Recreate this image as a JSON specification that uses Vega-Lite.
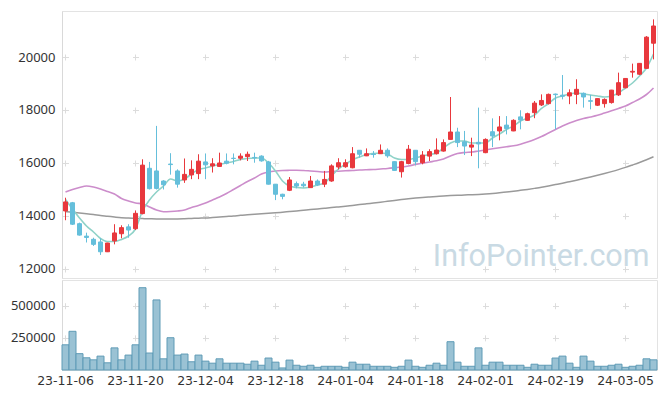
{
  "$schema": "https://vega.github.io/schema/vega-lite/v6.json",
  "padding": {"left": 5, "top": 10, "right": 9, "bottom": 0},
  "background": "white",
  "spacing": 0,
  "config": {
    "view": {"stroke": "#e3e3e3"},
    "axis": {"labelFont": "Noto Sans", "labelFontSize": 13, "labelColor": "#333333", "ticks": false, "domainColor": "#d9d9d9", "gridColor": "#dcdcdc", "title": null, "labelAngle": 0}
  },
  "datasets": {
    "k": [
      {"d":"23-11-06","o":14190,"h":14690,"l":13840,"c":14530,"v":196000,"m5":14623,"m20":14906,"m60":14170},
      {"d":"23-11-07","o":14500,"h":14530,"l":13660,"c":13690,"v":301000,"m5":14264,"m20":15000,"m60":14140},
      {"d":"23-11-08","o":13710,"h":13750,"l":13260,"c":13280,"v":127000,"m5":13925,"m20":15075,"m60":14113},
      {"d":"23-11-09","o":13240,"h":13370,"l":13000,"c":13190,"v":95000,"m5":13623,"m20":15132,"m60":14087},
      {"d":"23-11-10","o":13120,"h":13180,"l":12870,"c":12930,"v":79000,"m5":13396,"m20":15094,"m60":14057},
      {"d":"23-11-13","o":13020,"h":13160,"l":12530,"c":12650,"v":108000,"m5":13151,"m20":15019,"m60":14019},
      {"d":"23-11-14","o":12650,"h":12990,"l":12640,"c":12980,"v":56000,"m5":13038,"m20":14925,"m60":13992},
      {"d":"23-11-15","o":13060,"h":13690,"l":12930,"c":13360,"v":172000,"m5":13038,"m20":14830,"m60":13962},
      {"d":"23-11-16","o":13330,"h":13650,"l":13160,"c":13560,"v":79000,"m5":13113,"m20":14660,"m60":13936},
      {"d":"23-11-17","o":13590,"h":13690,"l":13180,"c":13470,"v":116000,"m5":13245,"m20":14566,"m60":13925},
      {"d":"23-11-20","o":13520,"h":14210,"l":13470,"c":14100,"v":196000,"m5":13509,"m20":14491,"m60":13913},
      {"d":"23-11-21","o":14090,"h":16140,"l":14060,"c":15920,"v":640000,"m5":14189,"m20":14464,"m60":13902},
      {"d":"23-11-22","o":15800,"h":16040,"l":15000,"c":15030,"v":132000,"m5":14604,"m20":14340,"m60":13894},
      {"d":"23-11-23","o":15700,"h":17400,"l":15000,"c":15040,"v":545000,"m5":14906,"m20":14226,"m60":13887},
      {"d":"23-11-24","o":15320,"h":15350,"l":15000,"c":15180,"v":87000,"m5":15132,"m20":14162,"m60":13887},
      {"d":"23-11-27","o":15960,"h":16370,"l":15560,"c":15940,"v":251000,"m5":15396,"m20":14170,"m60":13887},
      {"d":"23-11-28","o":15700,"h":15760,"l":15070,"c":15200,"v":116000,"m5":15321,"m20":14189,"m60":13887},
      {"d":"23-11-29","o":15360,"h":16170,"l":15250,"c":15570,"v":124000,"m5":15396,"m20":14226,"m60":13894},
      {"d":"23-11-30","o":15550,"h":16100,"l":15390,"c":15760,"v":64000,"m5":15585,"m20":14321,"m60":13906},
      {"d":"23-12-01","o":15600,"h":16330,"l":15390,"c":16070,"v":116000,"m5":15755,"m20":14396,"m60":13917},
      {"d":"23-12-04","o":16040,"h":16360,"l":15390,"c":15930,"v":69000,"m5":15811,"m20":14491,"m60":13925},
      {"d":"23-12-05","o":15890,"h":16180,"l":15640,"c":15970,"v":53000,"m5":15887,"m20":14604,"m60":13943},
      {"d":"23-12-06","o":15870,"h":16390,"l":15860,"c":16000,"v":87000,"m5":15943,"m20":14717,"m60":13962},
      {"d":"23-12-07","o":16070,"h":16360,"l":15950,"c":15990,"v":53000,"m5":16000,"m20":14849,"m60":13981},
      {"d":"23-12-08","o":16180,"h":16360,"l":15950,"c":16170,"v":53000,"m5":16057,"m20":15000,"m60":14000},
      {"d":"23-12-11","o":16180,"h":16365,"l":16100,"c":16260,"v":53000,"m5":16132,"m20":15151,"m60":14026},
      {"d":"23-12-12","o":16240,"h":16430,"l":16075,"c":16330,"v":45000,"m5":16170,"m20":15302,"m60":14045},
      {"d":"23-12-13","o":16210,"h":16390,"l":16010,"c":16190,"v":69000,"m5":16189,"m20":15434,"m60":14064},
      {"d":"23-12-14","o":16260,"h":16290,"l":16050,"c":16080,"v":37000,"m5":16189,"m20":15585,"m60":14083},
      {"d":"23-12-15","o":16040,"h":16080,"l":15190,"c":15200,"v":93000,"m5":16000,"m20":15660,"m60":14102},
      {"d":"23-12-18","o":15200,"h":15200,"l":14600,"c":14820,"v":61000,"m5":15698,"m20":15698,"m60":14121},
      {"d":"23-12-19","o":14820,"h":14840,"l":14630,"c":14740,"v":16000,"m5":15321,"m20":15717,"m60":14143},
      {"d":"23-12-20","o":14970,"h":15470,"l":14940,"c":15360,"v":77000,"m5":15132,"m20":15724,"m60":14166},
      {"d":"23-12-21","o":15220,"h":15300,"l":15045,"c":15130,"v":37000,"m5":15075,"m20":15728,"m60":14189},
      {"d":"23-12-22","o":15200,"h":15290,"l":15070,"c":15140,"v":29000,"m5":15057,"m20":15717,"m60":14215},
      {"d":"23-12-26","o":15070,"h":15510,"l":15060,"c":15320,"v":37000,"m5":15094,"m20":15698,"m60":14241},
      {"d":"23-12-27","o":15320,"h":15380,"l":15130,"c":15170,"v":21000,"m5":15170,"m20":15679,"m60":14264},
      {"d":"23-12-28","o":15200,"h":15700,"l":15090,"c":15380,"v":29000,"m5":15245,"m20":15660,"m60":14291},
      {"d":"24-01-02","o":15320,"h":15950,"l":15290,"c":15890,"v":29000,"m5":15509,"m20":15679,"m60":14317},
      {"d":"24-01-03","o":15850,"h":16180,"l":15760,"c":16010,"v":29000,"m5":15774,"m20":15691,"m60":14343},
      {"d":"24-01-04","o":15860,"h":16140,"l":15820,"c":16010,"v":21000,"m5":15962,"m20":15706,"m60":14370},
      {"d":"24-01-05","o":15820,"h":16600,"l":15800,"c":16350,"v":61000,"m5":16113,"m20":15717,"m60":14400},
      {"d":"24-01-08","o":16480,"h":16480,"l":16200,"c":16330,"v":45000,"m5":16226,"m20":15736,"m60":14430},
      {"d":"24-01-09","o":16270,"h":16550,"l":16260,"c":16350,"v":45000,"m5":16321,"m20":15747,"m60":14460},
      {"d":"24-01-10","o":16340,"h":16450,"l":16200,"c":16320,"v":29000,"m5":16358,"m20":15755,"m60":14491},
      {"d":"24-01-11","o":16350,"h":16700,"l":16340,"c":16480,"v":29000,"m5":16377,"m20":15774,"m60":14521},
      {"d":"24-01-12","o":16480,"h":16550,"l":16200,"c":16270,"v":29000,"m5":16340,"m20":15792,"m60":14555},
      {"d":"24-01-15","o":16050,"h":16060,"l":15710,"c":15720,"v":21000,"m5":16189,"m20":15819,"m60":14589},
      {"d":"24-01-16","o":15670,"h":16080,"l":15450,"c":16050,"v":29000,"m5":16132,"m20":15849,"m60":14619},
      {"d":"24-01-17","o":15980,"h":16680,"l":15950,"c":16520,"v":77000,"m5":16132,"m20":15887,"m60":14649},
      {"d":"24-01-18","o":16480,"h":16480,"l":15920,"c":16050,"v":29000,"m5":16189,"m20":15943,"m60":14675},
      {"d":"24-01-19","o":16010,"h":16450,"l":15950,"c":16300,"v":21000,"m5":16264,"m20":15992,"m60":14698},
      {"d":"24-01-22","o":16260,"h":16520,"l":16075,"c":16430,"v":37000,"m5":16321,"m20":16038,"m60":14717},
      {"d":"24-01-23","o":16350,"h":16930,"l":16320,"c":16490,"v":53000,"m5":16377,"m20":16083,"m60":14736},
      {"d":"24-01-24","o":16450,"h":16890,"l":16430,"c":16770,"v":37000,"m5":16566,"m20":16151,"m60":14755},
      {"d":"24-01-25","o":16890,"h":18490,"l":16890,"c":17170,"v":220000,"m5":16755,"m20":16264,"m60":14770},
      {"d":"24-01-26","o":17170,"h":17330,"l":16600,"c":16770,"v":61000,"m5":16830,"m20":16358,"m60":14781},
      {"d":"24-01-29","o":16800,"h":17210,"l":16300,"c":16640,"v":29000,"m5":16830,"m20":16396,"m60":14792},
      {"d":"24-01-30","o":16600,"h":16955,"l":16260,"c":16680,"v":29000,"m5":16755,"m20":16415,"m60":14804},
      {"d":"24-01-31","o":16780,"h":18090,"l":15800,"c":16720,"v":172000,"m5":16755,"m20":16453,"m60":14815},
      {"d":"24-02-01","o":16390,"h":16930,"l":16370,"c":16890,"v":37000,"m5":16755,"m20":16491,"m60":14830},
      {"d":"24-02-02","o":17180,"h":17685,"l":16600,"c":17020,"v":61000,"m5":16943,"m20":16536,"m60":14849},
      {"d":"24-02-05","o":17210,"h":17770,"l":16855,"c":17360,"v":61000,"m5":17094,"m20":16577,"m60":14875},
      {"d":"24-02-06","o":17430,"h":17770,"l":17080,"c":17300,"v":37000,"m5":17264,"m20":16615,"m60":14906},
      {"d":"24-02-07","o":17210,"h":17650,"l":17200,"c":17610,"v":37000,"m5":17396,"m20":16649,"m60":14936},
      {"d":"24-02-08","o":17740,"h":17990,"l":17270,"c":17620,"v":37000,"m5":17585,"m20":16709,"m60":14970},
      {"d":"24-02-13","o":17610,"h":17900,"l":17600,"c":17860,"v":21000,"m5":17698,"m20":16792,"m60":15004},
      {"d":"24-02-14","o":17900,"h":18340,"l":17690,"c":18260,"v":45000,"m5":17811,"m20":16887,"m60":15042},
      {"d":"24-02-15","o":18190,"h":18590,"l":18150,"c":18360,"v":37000,"m5":18057,"m20":17000,"m60":15083},
      {"d":"24-02-16","o":18240,"h":18620,"l":18210,"c":18590,"v":37000,"m5":18245,"m20":17132,"m60":15132},
      {"d":"24-02-19","o":18600,"h":18620,"l":17270,"c":18580,"v":93000,"m5":18453,"m20":17264,"m60":15185},
      {"d":"24-02-20","o":18560,"h":19320,"l":18400,"c":18520,"v":108000,"m5":18528,"m20":17396,"m60":15238},
      {"d":"24-02-21","o":18530,"h":18780,"l":18220,"c":18650,"v":53000,"m5":18604,"m20":17509,"m60":15294},
      {"d":"24-02-22","o":18590,"h":19160,"l":18220,"c":18780,"v":21000,"m5":18642,"m20":17604,"m60":15351},
      {"d":"24-02-23","o":18630,"h":18660,"l":18090,"c":18490,"v":108000,"m5":18604,"m20":17679,"m60":15411},
      {"d":"24-02-26","o":18350,"h":18570,"l":18025,"c":18330,"v":69000,"m5":18566,"m20":17736,"m60":15472},
      {"d":"24-02-27","o":18180,"h":18430,"l":18150,"c":18430,"v":29000,"m5":18528,"m20":17800,"m60":15536},
      {"d":"24-02-28","o":18240,"h":18440,"l":18090,"c":18400,"v":29000,"m5":18491,"m20":17887,"m60":15604},
      {"d":"24-02-29","o":18280,"h":18760,"l":18240,"c":18750,"v":37000,"m5":18528,"m20":17970,"m60":15675},
      {"d":"24-03-04","o":18570,"h":19410,"l":18530,"c":19030,"v":45000,"m5":18642,"m20":18057,"m60":15751},
      {"d":"24-03-05","o":18840,"h":19200,"l":18820,"c":19190,"v":21000,"m5":18830,"m20":18151,"m60":15834},
      {"d":"24-03-06","o":19430,"h":19750,"l":19220,"c":19460,"v":29000,"m5":19019,"m20":18283,"m60":15925},
      {"d":"24-03-07","o":19350,"h":19770,"l":19320,"c":19760,"v":37000,"m5":19283,"m20":18415,"m60":16019},
      {"d":"24-03-08","o":19570,"h":20790,"l":19570,"c":20750,"v":87000,"m5":19585,"m20":18585,"m60":16121},
      {"d":"24-03-11","o":20520,"h":21420,"l":19910,"c":21170,"v":79000,"m5":20113,"m20":18830,"m60":16234}
    ],
    "w": [{"d":"24-03-11","p":12113,"t":"InfoPointer.com"}]
  },
  "vconcat": [
    {
      "width": 595,
      "height": 267,
      "data": {"name": "k"},
      "encoding": {
        "x": {"field": "d", "type": "ordinal", "sort": null,
          "scale": {"paddingInner": 0, "paddingOuter": 0},
          "axis": {"values": ["23-11-06","23-11-20","23-12-04","23-12-18","24-01-04","24-01-18","24-02-01","24-02-19","24-03-05"],
            "labels": false, "domain": false, "ticks": false, "grid": true, "gridDash": [6, 47], "gridDashOffset": 10, "gridWidth": 1}}
      },
      "layer": [
        {
          "mark": {"type": "line", "color": "#9a9a9a", "strokeWidth": 1.5, "interpolate": "monotone"},
          "encoding": {"y": {"field": "m60", "type": "quantitative",
            "scale": {"domain": [11660, 21736], "nice": false, "zero": false},
            "axis": {"values": [12000, 14000, 16000, 18000, 20000], "format": "d", "labelPadding": 7, "minExtent": 56, "maxExtent": 56,
              "grid": true, "gridDash": [6, 64], "gridDashOffset": 69.5, "gridWidth": 1}}}
        },
        {
          "mark": {"type": "line", "color": "#cc8dcb", "strokeWidth": 1.6, "interpolate": "monotone"},
          "encoding": {"y": {"field": "m20", "type": "quantitative"}}
        },
        {
          "mark": {"type": "line", "color": "#8fd2c8", "strokeWidth": 1.6, "interpolate": "monotone"},
          "encoding": {"y": {"field": "m5", "type": "quantitative"}}
        },
        {
          "mark": {"type": "rule", "strokeWidth": 1},
          "encoding": {
            "y": {"field": "l", "type": "quantitative"},
            "y2": {"field": "h"},
            "color": {"condition": {"test": "datum.c >= datum.o", "value": "#e8383d"}, "value": "#65bfdb"}
          }
        },
        {
          "mark": {"type": "bar", "size": 4, "strokeWidth": 1},
          "encoding": {
            "y": {"field": "o", "type": "quantitative"},
            "y2": {"field": "c"},
            "fill": {"condition": {"test": "datum.c >= datum.o", "value": "#e8383d"}, "value": "#65bfdb"},
            "stroke": {"condition": {"test": "datum.c >= datum.o", "value": "#e8383d"}, "value": "#65bfdb"}
          }
        },
        {
          "data": {"name": "w"},
          "mark": {"type": "text", "font": "Roboto", "fontSize": 30.5, "align": "right", "baseline": "alphabetic", "dx": -4, "color": "#c9dae4"},
          "encoding": {
            "y": {"field": "p", "type": "quantitative"},
            "text": {"field": "t"}
          }
        }
      ]
    },
    {
      "width": 595,
      "height": 90,
      "data": {"name": "k"},
      "mark": {"type": "bar", "fill": "#9ac2d4", "stroke": "#5f9bb6", "strokeWidth": 1},
      "encoding": {
        "x": {"field": "d", "type": "ordinal", "sort": null,
          "scale": {"paddingInner": 0, "paddingOuter": 0},
          "axis": {"values": ["23-11-06","23-11-20","23-12-04","23-12-18","24-01-04","24-01-18","24-02-01","24-02-19","24-03-05"],
            "labelFont": "DejaVu Sans", "labelFontSize": 12.5, "labelPadding": 4, "labelOverlap": false, "domain": false, "ticks": false,
            "grid": true, "gridDash": [6, 26.14], "gridDashOffset": 9.43, "gridWidth": 1}},
        "y": {"field": "v", "type": "quantitative",
          "scale": {"domain": [0, 700000], "nice": false},
          "axis": {"values": [250000, 500000], "format": "d", "labelPadding": 7, "minExtent": 56, "maxExtent": 56,
            "grid": true, "gridDash": [6, 64], "gridDashOffset": 69.5, "gridWidth": 1}}
      }
    }
  ]
}
